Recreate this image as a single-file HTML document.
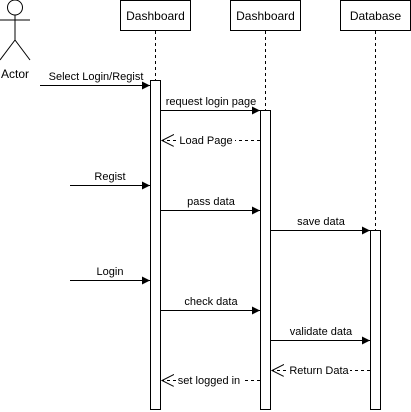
<!DOCTYPE html>
<html><head><meta charset="utf-8"><style>html,body{margin:0;padding:0;background:#fff}svg{display:block}</style></head>
<body>
<svg width="411" height="412" viewBox="0 0 411 412" xmlns="http://www.w3.org/2000/svg" font-family="Liberation Sans, Arial, sans-serif">
<defs>
<marker id="a" markerWidth="10" markerHeight="10" refX="8" refY="4" orient="auto" markerUnits="userSpaceOnUse"><path d="M0,0 L8,4 L0,8 Z" fill="#000"/></marker>
<marker id="o" markerWidth="14" markerHeight="14" refX="12" refY="6" orient="auto" markerUnits="userSpaceOnUse"><path d="M0,0 L12,6 L0,12" fill="none" stroke="#000"/></marker>
</defs>
<g stroke="#000" fill="none">
<circle cx="15" cy="7.5" r="7.5" fill="#fff"/>
<line x1="15" y1="15" x2="15" y2="40"/>
<line x1="0" y1="20" x2="30" y2="20"/>
<line x1="15" y1="40" x2="0" y2="60"/>
<line x1="15" y1="40" x2="30" y2="60"/>
<rect x="120.5" y="0.5" width="70" height="30" fill="#fff"/>
<rect x="230.5" y="0.5" width="70" height="30" fill="#fff"/>
<rect x="340.5" y="0.5" width="70" height="30" fill="#fff"/>
<g stroke-dasharray="3,3"><line x1="155.5" y1="31" x2="155.5" y2="80"/><line x1="265.5" y1="31" x2="265.5" y2="110"/><line x1="375.5" y1="31" x2="375.5" y2="230"/></g>
<rect x="150.5" y="80.5" width="10" height="329" fill="#fff"/>
<rect x="260.5" y="110.5" width="10" height="299" fill="#fff"/>
<rect x="370.5" y="230.5" width="10" height="179" fill="#fff"/>
<line x1="40" y1="85.5" x2="150" y2="85.5" marker-end="url(#a)"/>
<line x1="161" y1="110.5" x2="260" y2="110.5" marker-end="url(#a)"/>
<line x1="70" y1="185.5" x2="150" y2="185.5" marker-end="url(#a)"/>
<line x1="161" y1="210.5" x2="260" y2="210.5" marker-end="url(#a)"/>
<line x1="271" y1="230.5" x2="370" y2="230.5" marker-end="url(#a)"/>
<line x1="70" y1="280.5" x2="150" y2="280.5" marker-end="url(#a)"/>
<line x1="161" y1="310.5" x2="260" y2="310.5" marker-end="url(#a)"/>
<line x1="271" y1="340.5" x2="370" y2="340.5" marker-end="url(#a)"/>
<g stroke-dasharray="3,3">
<line x1="260" y1="140.5" x2="162" y2="140.5" marker-end="url(#o)"/>
<line x1="370" y1="370.5" x2="272" y2="370.5" marker-end="url(#o)"/>
<line x1="260" y1="380.5" x2="162" y2="380.5" marker-end="url(#o)"/>
</g>
</g>
<g font-size="12" fill="#000" text-anchor="middle">
<text x="155.5" y="20">Dashboard</text>
<text x="265.5" y="20">Dashboard</text>
<text x="375.5" y="20">Database</text>
<text x="15" y="78">Actor</text>
</g>
<g font-size="11" fill="#000" text-anchor="middle">
<text x="96" y="80">Select Login/Regist</text>
<text x="211" y="105">request login page</text>
<rect x="177" y="133" width="58" height="14" fill="#fff"/>
<text x="206" y="144">Load Page</text>
<text x="110" y="180">Regist</text>
<text x="211" y="205">pass data</text>
<text x="321" y="225">save data</text>
<text x="110" y="275">Login</text>
<text x="211" y="305">check data</text>
<text x="321" y="335">validate data</text>
<rect x="288" y="363" width="62" height="14" fill="#fff"/>
<text x="319" y="374">Return Data</text>
<rect x="176" y="373" width="67" height="14" fill="#fff"/>
<text x="209" y="384">set logged in</text>
</g>
</svg>
</body></html>
